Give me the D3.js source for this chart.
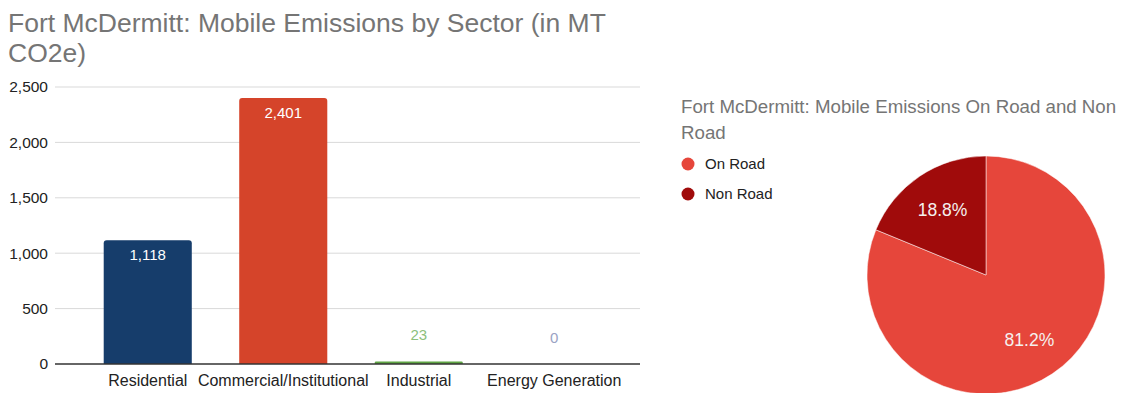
<!DOCTYPE html>
<html>
<head>
<meta charset="utf-8">
<script src="https://cdn.jsdelivr.net/npm/d3@7"></script>
<style>
  html, body { margin: 0; padding: 0; background: #fff; }
  svg { display: block; font-family: "Liberation Sans", Arial, sans-serif; }
</style>
</head>
<body>
<svg id="chart" width="1146" height="393"></svg>
<script>
// Mobile emissions by sector (MT CO2e)
const sectors = ["Residential", "Commercial/Institutional", "Industrial", "Energy Generation"];
const sectorValues = [1118, 2401, 23, 0];
const sectorColors = ["#163d6b", "#d5442a", "#5fa544", "#8e9cc4"];
const sectorLabelColors = ["#ffffff", "#ffffff", "#8dbf7c", "#9aa3c4"];
const yTicks = [0, 500, 1000, 1500, 2000, 2500];

// On road vs non road split (%)
const roadTypes = ["On Road", "Non Road"];
const roadShares = [81.2, 18.8];
const roadColors = ["#e6463b", "#a00b0b"];

const svg = d3.select("#chart");
const fmt = d3.format(",");
const FONT = "'Liberation Sans', Arial, sans-serif";

// ---- Bar chart ----
const x = d3.scaleBand().domain(sectors).range([80, 622]).paddingInner(0.35).paddingOuter(0.175);
const y = d3.scaleLinear().domain([0, 2500]).range([364, 87]);

svg.append("text").attr("x", 8).attr("y", 32).attr("font-size", 26.5).attr("fill", "#757575")
  .text("Fort McDermitt: Mobile Emissions by Sector (in MT");
svg.append("text").attr("x", 8).attr("y", 62).attr("font-size", 26.5).attr("fill", "#757575")
  .text("CO2e)");

const grid = svg.append("g");
grid.selectAll("line").data(yTicks.filter(d => d > 0)).join("line")
  .attr("x1", 55).attr("x2", 640)
  .attr("y1", d => y(d)).attr("y2", d => y(d))
  .attr("stroke", "#d9d9d9").attr("stroke-width", 1);

const yAxis = svg.append("g").attr("transform", "translate(48,0)")
  .call(d3.axisLeft(y).tickValues(yTicks).tickFormat(fmt).tickSize(0).tickPadding(0));
yAxis.select(".domain").remove();
yAxis.selectAll("text").attr("font-size", 15.5).attr("fill", "#222").attr("font-family", FONT);

svg.append("g").selectAll("path").data(sectors).join("path")
  .attr("d", (d, i) => {
    const x0 = x(d), w = x.bandwidth(), top = y(sectorValues[i]), bot = y(0);
    const r = Math.min(3, (bot - top) / 2);
    return `M${x0},${bot}V${top + r}Q${x0},${top} ${x0 + r},${top}H${x0 + w - r}Q${x0 + w},${top} ${x0 + w},${top + r}V${bot}Z`;
  })
  .attr("fill", (d, i) => sectorColors[i]);

const xAxis = svg.append("g").attr("transform", `translate(0,${y(0)})`)
  .call(d3.axisBottom(x).tickSize(0).tickPadding(10.5));
xAxis.select(".domain").attr("d", "M55,0H640").attr("stroke", "#333").attr("stroke-width", 1.5);
xAxis.selectAll("text").attr("font-size", 16).attr("fill", "#222").attr("font-family", FONT);

svg.append("g").selectAll("text").data(sectors).join("text")
  .attr("x", d => x(d) + x.bandwidth() / 2)
  .attr("y", (d, i) => sectorValues[i] > 300 ? y(sectorValues[i]) + 20 : y(sectorValues[i]) - 21)
  .attr("text-anchor", "middle").attr("font-size", 15)
  .attr("fill", (d, i) => sectorLabelColors[i])
  .text((d, i) => fmt(sectorValues[i]));

// ---- Pie chart ----
svg.append("text").attr("x", 681).attr("y", 113).attr("font-size", 18.7).attr("fill", "#757575")
  .text("Fort McDermitt: Mobile Emissions On Road and Non");
svg.append("text").attr("x", 681).attr("y", 139).attr("font-size", 18.7).attr("fill", "#757575")
  .text("Road");

const legend = svg.append("g").selectAll("g").data(roadTypes).join("g")
  .attr("transform", (d, i) => `translate(688,${164 + i * 30})`);
legend.append("circle").attr("r", 6.5).attr("fill", (d, i) => roadColors[i]);
legend.append("text").attr("x", 17).attr("y", 5).attr("font-size", 15).attr("fill", "#222").text(d => d);

const pie = d3.pie().sort(null).value(d => d)(roadShares);
const radius = 119;
const arc = d3.arc().innerRadius(0).outerRadius(radius);
const pieG = svg.append("g").attr("transform", "translate(986,275)");
pieG.selectAll("path").data(pie).join("path")
  .attr("d", arc).attr("fill", (d, i) => roadColors[i])
  .attr("stroke", "#fff").attr("stroke-width", 0.5);
const labelArc = d3.arc().innerRadius(radius * 0.655).outerRadius(radius * 0.655);
pieG.selectAll("text").data(pie).join("text")
  .attr("transform", d => `translate(${labelArc.centroid(d)})`)
  .attr("dy", "0.35em").attr("text-anchor", "middle")
  .attr("font-size", 17.5).attr("fill", "#f5f0ee")
  .text(d => d.data.toFixed(1) + "%");
</script>
</body>
</html>
